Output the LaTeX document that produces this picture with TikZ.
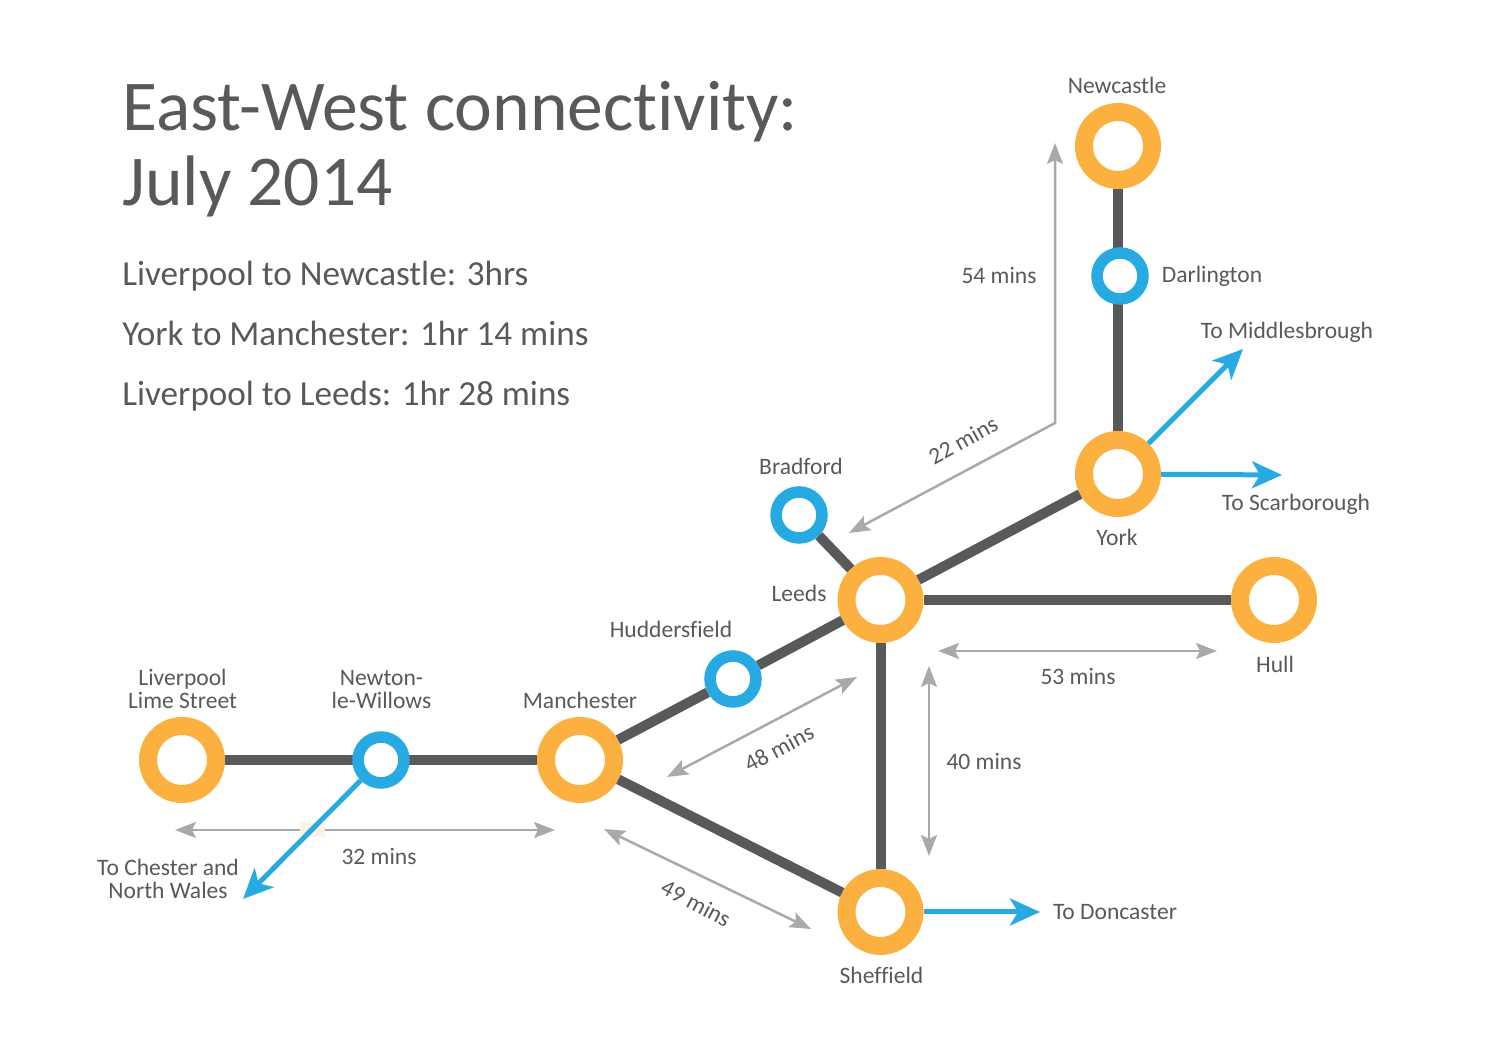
\documentclass[tikz,border=0pt]{standalone}
\usepackage{fontspec}
\setmainfont[Ligatures=NoCommon]{Carlito}
\usetikzlibrary{arrows.meta,backgrounds}
\definecolor{railgrey}{HTML}{58595B}
\definecolor{huborange}{HTML}{FBB040}
\definecolor{stopblue}{HTML}{27AAE1}
\definecolor{timegrey}{HTML}{A7A9AC}
\definecolor{patchcream}{HTML}{FDF1E2}
\tikzset{
	hub/.style={circle,draw=huborange,fill=white,line width=3.6mm,minimum size=13.6mm,inner sep=0pt},
	stop/.style={circle,draw=stopblue,fill=white,line width=2.3mm,minimum size=9.2mm,inner sep=0pt},
	rail/.style={draw=railgrey,line width=2mm},
	branch/.style={draw=stopblue,line width=1mm,-{Stealth[length=6mm,width=5.4mm,inset=1.6mm]}},
	time/.style={draw=timegrey,line width=.5mm,{Stealth[length=4.2mm,width=3.2mm,inset=.8mm]}-{Stealth[length=4.2mm,width=3.2mm,inset=.8mm]}},
	label/.style={text=railgrey,font=\fontsize{13.4}{13.1}\selectfont,align=center,inner sep=0pt,yshift=.5pt},
	headline/.style={text=railgrey,font=\fontsize{40.7}{44}\selectfont,anchor=base west,inner sep=0pt},
	summary/.style={text=railgrey,font=\fontsize{20}{24}\selectfont,anchor=base west,inner sep=0pt}
}
\begin{document}
\begin{tikzpicture}
	\useasboundingbox (0,0) rectangle (30,21.2);
	
	%title and summary
	\node[headline] (title1) at (2.44,18.58) {East-West connectivity:};
	\node[headline] (title2) at (2.44,17.08) {July 2014};
	\node[summary] (sum1) at (2.44,15.48) {Liverpool to Newcastle: 3hrs};
	\node[summary] (sum2) at (2.44,14.29) {York to Manchester: 1hr 14 mins};
	\node[summary] (sum3) at (2.44,13.09) {Liverpool to Leeds: 1hr 28 mins};
	
	%stations
	\node[hub] (liverpool) at (3.64,6) {};
	\node[stop] (newton) at (7.62,6) {};
	\node[hub] (manchester) at (11.6,6) {};
	\node[stop] (huddersfield) at (14.66,7.62) {};
	\node[hub] (leeds) at (17.61,9.2) {};
	\node[stop] (bradford) at (15.98,10.9) {};
	\node[hub] (york) at (22.36,11.72) {};
	\node[stop] (darlington) at (22.4,15.68) {};
	\node[hub] (newcastle) at (22.36,18.28) {};
	\node[hub] (hull) at (25.48,9.2) {};
	\node[hub] (sheffield) at (17.61,2.96) {};
	
	%free ends
	\coordinate (toChester) at (4.86,3.22);
	\coordinate (toMiddlesbrough) at (24.86,14.22);
	\coordinate (toScarborough) at (25.64,11.7);
	\coordinate (toDoncaster) at (20.8,2.96);
	\coordinate (t32a) at (3.5,4.6);
	\coordinate (t32b) at (11.1,4.6);
	\coordinate (t49a) at (12.08,4.62);
	\coordinate (t49b) at (16.22,2.62);
	\coordinate (t48a) at (17.14,7.66);
	\coordinate (t48b) at (13.34,5.66);
	\coordinate (t40a) at (18.58,7.88);
	\coordinate (t40b) at (18.58,4.08);
	\coordinate (t53a) at (18.76,8.18);
	\coordinate (t53b) at (24.34,8.18);
	\coordinate (t54a) at (21.1,18.34);
	\coordinate (t54b) at (21.1,12.74);
	\coordinate (t54c) at (16.98,10.54);
	
	%rails
	\begin{scope}[on background layer]
		\draw[rail] (liverpool) -- (manchester);
		\draw[rail] (newcastle) -- (york);
	\end{scope}
	\draw[rail] (manchester) -- (huddersfield);
	\draw[rail] (huddersfield) -- (leeds);
	\draw[rail] (manchester) -- (sheffield);
	\draw[rail] (leeds) -- (sheffield);
	\draw[rail] (leeds) -- (hull);
	\draw[rail] (leeds) -- (york);
	\draw[rail] (leeds) -- (bradford);
	
	%journey times
	\draw[time] (t32a) -- (t32b);
	\fill[patchcream] (6,4.46) rectangle (6.5,4.74);
	\draw[time] (t49a) -- (t49b);
	\draw[time] (t48a) -- (t48b);
	\draw[time] (t40a) -- (t40b);
	\draw[time] (t53a) -- (t53b);
	\draw[time] (t54a) -- (t54b) -- (t54c);
	
	%branches
	\draw[branch] (newton) -- (toChester);
	\draw[branch] (york) -- (toMiddlesbrough);
	\draw[branch] (york) -- (toScarborough);
	\draw[branch] (sheffield) -- (toDoncaster);
	
	%labels
	\node[label] (lLiverpool) at (3.65,7.4) {Liverpool\\Lime Street};
	\node[label] (lNewton) at (7.63,7.4) {Newton-\\le-Willows};
	\node[label] (lManchester) at (11.6,7.18) {Manchester};
	\node[label] (lHuddersfield) at (13.42,8.6) {Huddersfield};
	\node[label] (lLeeds) at (15.98,9.32) {Leeds};
	\node[label] (lBradford) at (16.02,11.86) {Bradford};
	\node[label] (lYork) at (22.34,10.44) {York};
	\node[label] (lDarlington) at (24.24,15.66) {Darlington};
	\node[label] (lNewcastle) at (22.34,19.48) {Newcastle};
	\node[label] (lHull) at (25.5,7.9) {Hull};
	\node[label] (lSheffield) at (17.63,1.68) {Sheffield};
	\node[label] (lChester) at (3.36,3.61) {To Chester and\\North Wales};
	\node[label] (lMiddlesbrough) at (25.74,14.54) {To Middlesbrough};
	\node[label] (lScarborough) at (25.92,11.09) {To Scarborough};
	\node[label] (lDoncaster) at (22.3,2.94) {To Doncaster};
	\node[label] (l32) at (7.58,4.06) {32 mins};
	\node[label,rotate=-28] (l49) at (13.92,3.12) {49 mins};
	\node[label,rotate=28] (l48) at (15.58,6.22) {48 mins};
	\node[label] (l40) at (19.68,5.96) {40 mins};
	\node[label] (l53) at (21.56,7.66) {53 mins};
	\node[label,rotate=29] (l22) at (19.26,12.38) {22 mins};
	\node[label] (l54) at (19.98,15.68) {54 mins};
\end{tikzpicture}
\end{document}
